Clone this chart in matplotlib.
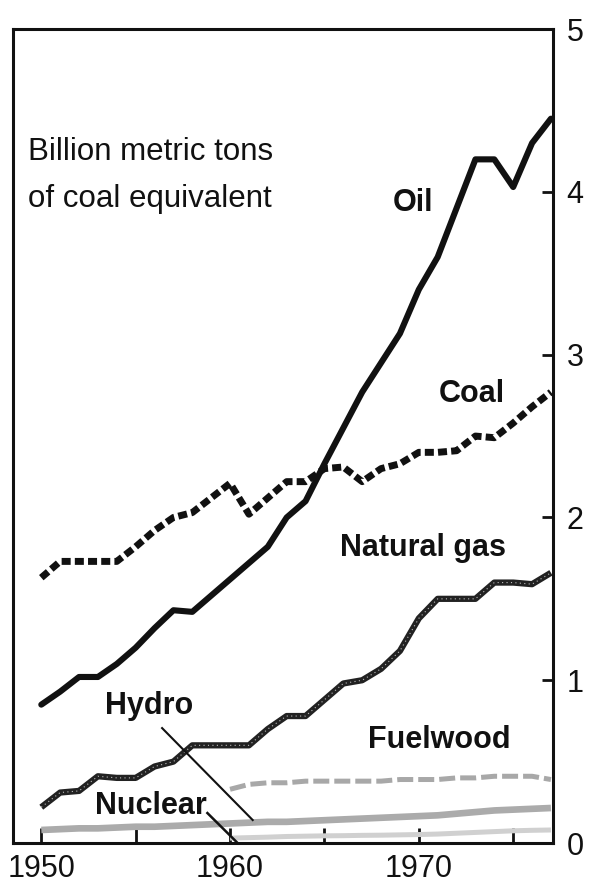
import matplotlib
matplotlib.use("Agg")
import matplotlib.pyplot as plt

# world energy consumption by source, billion metric tons of coal equivalent
years = list(range(1950, 1978))
oil = [0.85, 0.93, 1.02, 1.02, 1.10, 1.20, 1.32, 1.43, 1.42, 1.52, 1.62, 1.72, 1.82, 2.00,
       2.10, 2.33, 2.55, 2.77, 2.95, 3.13, 3.40, 3.60, 3.90, 4.20, 4.20, 4.03, 4.30, 4.45]
coal = [1.63, 1.73, 1.73, 1.73, 1.73, 1.82, 1.92, 2.00, 2.03, 2.12, 2.21, 2.02, 2.12, 2.22,
        2.22, 2.30, 2.31, 2.22, 2.30, 2.33, 2.40, 2.40, 2.41, 2.50, 2.49, 2.58, 2.68, 2.77]
natural_gas = [0.22, 0.31, 0.32, 0.41, 0.40, 0.40, 0.47, 0.50, 0.60, 0.60, 0.60, 0.60, 0.70, 0.78,
               0.78, 0.88, 0.98, 1.00, 1.07, 1.18, 1.38, 1.50, 1.50, 1.50, 1.60, 1.60, 1.59, 1.66]
hydro = [0.08, 0.085, 0.09, 0.09, 0.095, 0.10, 0.10, 0.105, 0.11, 0.115, 0.12, 0.125, 0.13, 0.13,
         0.135, 0.14, 0.145, 0.15, 0.155, 0.16, 0.165, 0.17, 0.18, 0.19, 0.20, 0.205, 0.21, 0.215]

years_late = list(range(1960, 1978))
fuelwood = [0.33, 0.36, 0.37, 0.37, 0.38, 0.38, 0.38, 0.38, 0.38, 0.39, 0.39, 0.39, 0.40, 0.40,
            0.41, 0.41, 0.41, 0.39]
nuclear = [0.03, 0.033, 0.036, 0.04, 0.042, 0.044, 0.045, 0.047, 0.048, 0.05, 0.052, 0.055, 0.06,
           0.065, 0.07, 0.075, 0.078, 0.08]

x_ticks = [1950, 1955, 1960, 1965, 1970, 1975]
x_labels = ["1950", "", "1960", "", "1970", ""]
y_ticks = [0, 1, 2, 3, 4, 5]

num_font = ["Liberation Sans", "DejaVu Sans"]
lab_font = ["Liberation Sans Narrow", "Liberation Sans", "DejaVu Sans"]

fig = plt.figure(figsize=(5.9, 8.83), dpi=100)
ax = fig.add_axes([0.022, 0.0453, 0.915, 0.9217])

# bottom bands first
ax.plot(years_late, nuclear, color="#d0d0d0", lw=3.6, solid_capstyle="butt")
ax.plot(years, hydro, color="#ababab", lw=4.8, solid_capstyle="butt")
ax.plot(years_late, fuelwood, color="#a8a8a8", lw=3.6, linestyle=(0, (3.2, 1.0)),
        dash_capstyle="butt")

# natural gas: dark hatched line
ax.plot(years, natural_gas, color="#222222", lw=4.5, solid_capstyle="butt")
ax.plot(years, natural_gas, color="white", lw=0.8, linestyle=(0, (1, 3)), alpha=0.7)

ax.plot(years, coal, color="#111111", lw=5.0, linestyle=(0, (1.3, 0.6)),
        dash_capstyle="butt")
ax.plot(years, oil, color="#111111", lw=4.4, solid_capstyle="round",
        solid_joinstyle="round")

ax.set_xlim(1948.5, 1977.1)
ax.set_ylim(0, 5)

for side in ["left", "right", "top", "bottom"]:
    ax.spines[side].set_linewidth(2.2)
    ax.spines[side].set_color("#111111")

ax.yaxis.tick_right()
ax.set_yticks(y_ticks)
ax.set_yticklabels([str(v) for v in y_ticks], fontsize=22, family=num_font)
ax.set_xticks(x_ticks)
ax.set_xticklabels(x_labels, fontsize=22, family=num_font)
ax.tick_params(axis="y", direction="in", length=8, width=2, pad=10, colors="#111111")
ax.tick_params(axis="x", direction="in", length=11, width=2, pad=8, colors="#111111")

# unit note
ax.text(1949.3, 4.196, "Billion metric tons", fontsize=22.5, family=num_font,
        color="#111111", va="baseline", ha="left")
ax.text(1949.3, 3.91, "of coal equivalent", fontsize=22.5, family=num_font,
        color="#111111", va="baseline", ha="left")

# series labels
labels = [("Oil", 1969.7, 3.93), ("Coal", 1972.8, 2.76), ("Natural gas", 1970.2, 1.81),
          ("Fuelwood", 1971.1, 0.63), ("Hydro", 1955.7, 0.84), ("Nuclear", 1955.8, 0.23)]
for name, lx, ly in labels:
    ax.text(lx, ly, name, fontsize=22, family=lab_font, fontweight="bold",
            color="#111111", ha="center", va="center")

# leader lines
ax.plot([1956.4, 1961.2], [0.706, 0.141], color="#111111", lw=1.5)
ax.plot([1958.8, 1960.4], [0.184, 0.0], color="#111111", lw=1.8)

fig.savefig("out.png", dpi=100)
